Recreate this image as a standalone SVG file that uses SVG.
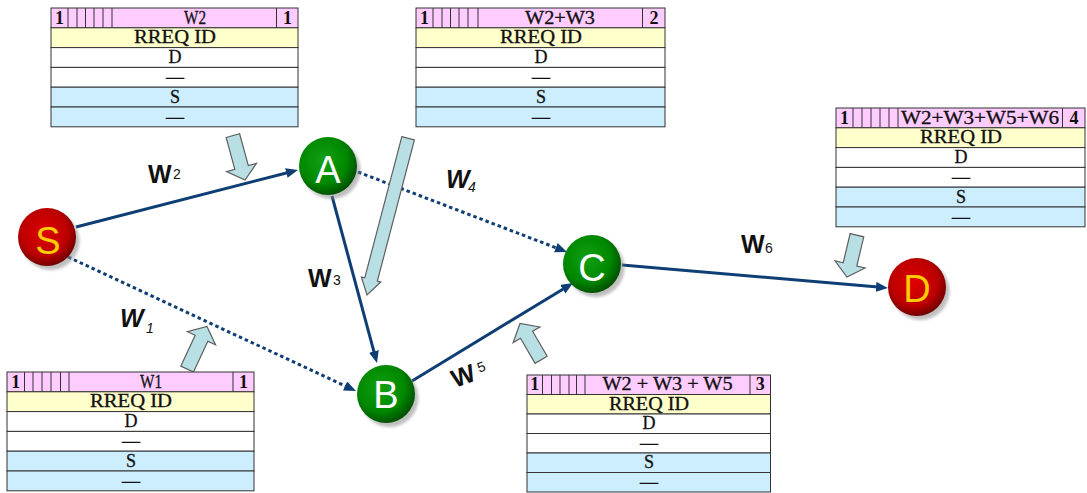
<svg xmlns="http://www.w3.org/2000/svg" width="1087" height="493" viewBox="0 0 1087 493">
<style>
.pk{fill:#ffccff}.yl{fill:#ffffcc}.wt{fill:#ffffff}.bl{fill:#cceeff}
.tb rect{stroke:#333;stroke-width:1}
.tb line{stroke:#333;stroke-width:1}
.tt{font-family:"Liberation Serif",serif;font-size:18px;text-anchor:middle;fill:#111;stroke:#111;stroke-width:0.3}
.tb .n{font-weight:bold;font-size:18px;stroke:none}
.edge{fill:none;stroke:#0f3e74;stroke-width:3}
.dot{stroke-dasharray:3.5 3}
.blk{fill:#b8dfe3;stroke:#5e5e5e;stroke-width:1.2;stroke-linejoin:miter}
.wl{font-family:"Liberation Sans",Arial,sans-serif;font-size:25px;font-weight:bold;fill:#111}
.ws{font-family:"Liberation Sans",Arial,sans-serif;font-size:14px;fill:#111}
.nl{font-family:"Liberation Sans",Arial,sans-serif;font-size:38px;text-anchor:middle}
</style>
<defs>
<radialGradient id="gG" cx="0.42" cy="0.4" r="0.62">
<stop offset="0" stop-color="#12a012"/><stop offset="0.65" stop-color="#008800"/><stop offset="1" stop-color="#004f00"/>
</radialGradient>
<radialGradient id="gR" cx="0.45" cy="0.42" r="0.62">
<stop offset="0" stop-color="#e00000"/><stop offset="0.65" stop-color="#bb0000"/><stop offset="1" stop-color="#640000"/>
</radialGradient>
<filter id="sh" x="-30%" y="-30%" width="160%" height="160%"><feGaussianBlur stdDeviation="1.8"/></filter>
<marker id="ah" markerUnits="userSpaceOnUse" markerWidth="13" markerHeight="11" refX="2" refY="5" orient="auto">
<path d="M0,0 L12,5 L0,10 Z" fill="#0f3e74"/>
</marker>
</defs>

<g id="connectors">
<line class="edge" x1="76" y1="227" x2="288.3" y2="172.5" marker-end="url(#ah)"/>
<line class="edge dot" x1="68" y1="257" x2="346.9" y2="386.8" marker-end="url(#ah)"/>
<line class="edge" x1="332" y1="196" x2="374.4" y2="353.3" marker-end="url(#ah)"/>
<line class="edge dot" x1="358" y1="172" x2="557.7" y2="248.4" marker-end="url(#ah)"/>
<line class="edge" x1="412" y1="381" x2="564.5" y2="288.2" marker-end="url(#ah)"/>
<line class="edge" x1="622" y1="265" x2="878" y2="287.1" marker-end="url(#ah)"/>
</g>

<g id="edge-labels">
<text class="wl" x="148" y="183">W</text><text class="ws" x="173" y="179">2</text>
<text class="wl" x="120" y="327" font-style="italic">W</text><text class="ws" x="146" y="333" font-style="italic">1</text>
<text class="wl" x="308" y="287">W</text><text class="ws" x="333" y="285">3</text>
<text class="wl" x="446" y="188" font-style="italic">W</text><text class="ws" x="468" y="192" font-style="italic">4</text>
<g transform="translate(455,388) rotate(-20)"><text class="wl" x="0" y="0">W</text><text class="ws" x="28" y="-6">5</text></g>
<text class="wl" x="741" y="253">W</text><text class="ws" x="765" y="253">6</text>
</g>

<g id="pointer-arrows">
<path class="blk" transform="translate(245,180) rotate(-15.3)" d="M-7,-46 L7,-46 L7,-13 L15.5,-13 L0,0 L-15.5,-13 L-7,-13 Z"/>
<path class="blk" transform="translate(367,295) rotate(14.7)" d="M-6.5,-162 L6.5,-162 L6.5,-16 L10,-16 L0,0 L-10,-16 L-6.5,-16 Z"/>
<path class="blk" transform="translate(520,323.5) rotate(149.8)" d="M-7,-42 L7,-42 L7,-13 L15.5,-13 L0,0 L-15.5,-13 L-7,-13 Z"/>
<path class="blk" transform="translate(207,326.5) rotate(-155)" d="M-7,-47 L7,-47 L7,-13 L15.5,-13 L0,0 L-15.5,-13 L-7,-13 Z"/>
<path class="blk" transform="translate(847,277) rotate(13.4)" d="M-7,-43 L7,-43 L7,-13 L15.5,-13 L0,0 L-15.5,-13 L-7,-13 Z"/>
</g>

<g id="node-S">
<circle cx="50.5" cy="241" r="29" fill="#8a8a8a" opacity="0.55" filter="url(#sh)"/>
<circle cx="47" cy="237" r="29" fill="url(#gR)"/>
<text class="nl" x="48" y="254" fill="#ffcc00">S</text>
</g>
<g id="node-A">
<circle cx="331.5" cy="170" r="29" fill="#8a8a8a" opacity="0.55" filter="url(#sh)"/>
<circle cx="328" cy="166" r="29" fill="url(#gG)"/>
<text class="nl" x="328" y="183" fill="#ffffff">A</text>
</g>
<g id="node-B">
<circle cx="389.5" cy="398" r="29" fill="#8a8a8a" opacity="0.55" filter="url(#sh)"/>
<circle cx="386" cy="394" r="29" fill="url(#gG)"/>
<text class="nl" x="386" y="408" fill="#ffffff">B</text>
</g>
<g id="node-C">
<circle cx="595.5" cy="268" r="29" fill="#8a8a8a" opacity="0.55" filter="url(#sh)"/>
<circle cx="592" cy="264" r="29" fill="url(#gG)"/>
<text class="nl" x="592" y="281" fill="#ffffff">C</text>
</g>
<g id="node-D">
<circle cx="920.5" cy="291" r="29" fill="#8a8a8a" opacity="0.55" filter="url(#sh)"/>
<circle cx="917" cy="287" r="29" fill="url(#gR)"/>
<text class="nl" x="917" y="302" fill="#ffcc00">D</text>
</g>

<g id="table-W2" class="tb" transform="translate(51,8)">
<rect class="pk" x="0" y="0" width="247" height="19.8"/>
<rect class="yl" x="0" y="19.8" width="247" height="19.8"/>
<rect class="wt" x="0" y="39.6" width="247" height="19.8"/>
<rect class="wt" x="0" y="59.4" width="247" height="19.8"/>
<rect class="bl" x="0" y="79.2" width="247" height="19.8"/>
<rect class="bl" x="0" y="99" width="247" height="19.8"/>
<line x1="17" y1="0" x2="17" y2="19.8"/><line x1="26" y1="0" x2="26" y2="19.8"/><line x1="34.5" y1="0" x2="34.5" y2="19.8"/><line x1="43" y1="0" x2="43" y2="19.8"/><line x1="52" y1="0" x2="52" y2="19.8"/><line x1="61" y1="0" x2="61" y2="19.8"/><line x1="225.5" y1="0" x2="225.5" y2="19.8"/>
<text class="tt n" x="8.5" y="15.5">1</text>
<text class="tt" x="144" y="15.5" textLength="22" lengthAdjust="spacingAndGlyphs">W2</text>
<text class="tt n" x="236.5" y="15.5">1</text>
<text class="tt" x="124" y="35.3" textLength="82" lengthAdjust="spacingAndGlyphs">RREQ ID</text>
<text class="tt" x="124" y="55.1">D</text>
<text class="tt" x="124" y="74.9">—</text>
<text class="tt" x="124" y="94.7">S</text>
<text class="tt" x="124" y="114.5">—</text>
</g>

<g id="table-W2W3" class="tb" transform="translate(416,8)">
<rect class="pk" x="0" y="0" width="249" height="19.8"/>
<rect class="yl" x="0" y="19.8" width="249" height="19.8"/>
<rect class="wt" x="0" y="39.6" width="249" height="19.8"/>
<rect class="wt" x="0" y="59.4" width="249" height="19.8"/>
<rect class="bl" x="0" y="79.2" width="249" height="19.8"/>
<rect class="bl" x="0" y="99" width="249" height="19.8"/>
<line x1="17" y1="0" x2="17" y2="19.8"/><line x1="26" y1="0" x2="26" y2="19.8"/><line x1="34.5" y1="0" x2="34.5" y2="19.8"/><line x1="43" y1="0" x2="43" y2="19.8"/><line x1="52" y1="0" x2="52" y2="19.8"/><line x1="62" y1="0" x2="62" y2="19.8"/><line x1="226.5" y1="0" x2="226.5" y2="19.8"/>
<text class="tt n" x="8.5" y="15.5">1</text>
<text class="tt" x="144" y="15.5" textLength="70" lengthAdjust="spacingAndGlyphs">W2+W3</text>
<text class="tt n" x="238" y="15.5">2</text>
<text class="tt" x="125" y="35.3" textLength="82" lengthAdjust="spacingAndGlyphs">RREQ ID</text>
<text class="tt" x="125" y="55.1">D</text>
<text class="tt" x="125" y="74.9">—</text>
<text class="tt" x="125" y="94.7">S</text>
<text class="tt" x="125" y="114.5">—</text>
</g>

<g id="table-W2W3W5W6" class="tb" transform="translate(836,108)">
<rect class="pk" x="0" y="0" width="249" height="19.8"/>
<rect class="yl" x="0" y="19.8" width="249" height="19.8"/>
<rect class="wt" x="0" y="39.6" width="249" height="19.8"/>
<rect class="wt" x="0" y="59.4" width="249" height="19.8"/>
<rect class="bl" x="0" y="79.2" width="249" height="19.8"/>
<rect class="bl" x="0" y="99" width="249" height="19.8"/>
<line x1="17" y1="0" x2="17" y2="19.8"/><line x1="26" y1="0" x2="26" y2="19.8"/><line x1="35" y1="0" x2="35" y2="19.8"/><line x1="44" y1="0" x2="44" y2="19.8"/><line x1="53" y1="0" x2="53" y2="19.8"/><line x1="62" y1="0" x2="62" y2="19.8"/><line x1="226.5" y1="0" x2="226.5" y2="19.8"/>
<text class="tt n" x="8.5" y="15.5">1</text>
<text class="tt" x="144" y="15.5" textLength="158" lengthAdjust="spacingAndGlyphs">W2+W3+W5+W6</text>
<text class="tt n" x="238" y="15.5">4</text>
<text class="tt" x="125" y="35.3" textLength="82" lengthAdjust="spacingAndGlyphs">RREQ ID</text>
<text class="tt" x="125" y="55.1">D</text>
<text class="tt" x="125" y="74.9">—</text>
<text class="tt" x="125" y="94.7">S</text>
<text class="tt" x="125" y="114.5">—</text>
</g>

<g id="table-W1" class="tb" transform="translate(7,372)">
<rect class="pk" x="0" y="0" width="247" height="19.8"/>
<rect class="yl" x="0" y="19.8" width="247" height="19.8"/>
<rect class="wt" x="0" y="39.6" width="247" height="19.8"/>
<rect class="wt" x="0" y="59.4" width="247" height="19.8"/>
<rect class="bl" x="0" y="79.2" width="247" height="19.8"/>
<rect class="bl" x="0" y="99" width="247" height="19.8"/>
<line x1="17.5" y1="0" x2="17.5" y2="19.8"/><line x1="26" y1="0" x2="26" y2="19.8"/><line x1="35" y1="0" x2="35" y2="19.8"/><line x1="44" y1="0" x2="44" y2="19.8"/><line x1="53.5" y1="0" x2="53.5" y2="19.8"/><line x1="62" y1="0" x2="62" y2="19.8"/><line x1="226" y1="0" x2="226" y2="19.8"/>
<text class="tt n" x="8.7" y="15.5">1</text>
<text class="tt" x="144" y="15.5" textLength="22" lengthAdjust="spacingAndGlyphs">W1</text>
<text class="tt n" x="236.5" y="15.5">1</text>
<text class="tt" x="124" y="35.3" textLength="82" lengthAdjust="spacingAndGlyphs">RREQ ID</text>
<text class="tt" x="124" y="55.1">D</text>
<text class="tt" x="124" y="74.9">—</text>
<text class="tt" x="124" y="94.7">S</text>
<text class="tt" x="124" y="114.5">—</text>
</g>

<g id="table-W2W3W5" class="tb" transform="translate(527,375)">
<rect class="pk" x="0" y="0" width="243.5" height="19.5"/>
<rect class="yl" x="0" y="19.5" width="243.5" height="19.5"/>
<rect class="wt" x="0" y="39" width="243.5" height="19.5"/>
<rect class="wt" x="0" y="58.5" width="243.5" height="19.5"/>
<rect class="bl" x="0" y="78" width="243.5" height="19.5"/>
<rect class="bl" x="0" y="97.5" width="243.5" height="19.5"/>
<line x1="15.5" y1="0" x2="15.5" y2="19.5"/><line x1="24.5" y1="0" x2="24.5" y2="19.5"/><line x1="33" y1="0" x2="33" y2="19.5"/><line x1="42" y1="0" x2="42" y2="19.5"/><line x1="49.5" y1="0" x2="49.5" y2="19.5"/><line x1="58" y1="0" x2="58" y2="19.5"/><line x1="223" y1="0" x2="223" y2="19.5"/>
<text class="tt n" x="7.8" y="15.3">1</text>
<text class="tt" x="140.5" y="15.3" textLength="130" lengthAdjust="spacingAndGlyphs">W2 + W3 + W5</text>
<text class="tt n" x="233.3" y="15.3">3</text>
<text class="tt" x="122" y="34.8" textLength="80" lengthAdjust="spacingAndGlyphs">RREQ ID</text>
<text class="tt" x="122" y="54.3">D</text>
<text class="tt" x="122" y="73.8">—</text>
<text class="tt" x="122" y="93.3">S</text>
<text class="tt" x="122" y="112.8">—</text>
</g>
</svg>
